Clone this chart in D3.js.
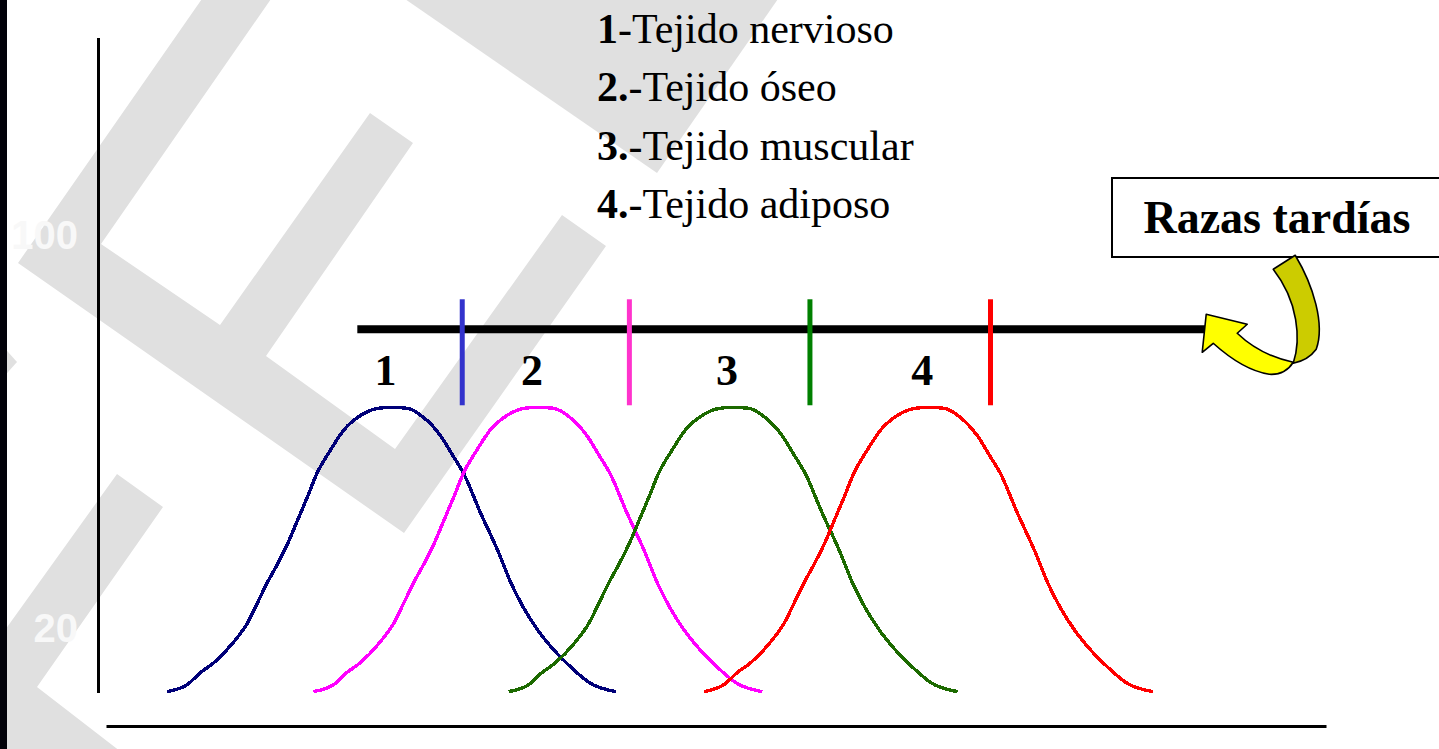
<!DOCTYPE html>
<html>
<head>
<meta charset="utf-8">
<script src="https://cdn.jsdelivr.net/npm/d3@7"></script>
<style>
  html, body { margin: 0; padding: 0; background: #fff; overflow: hidden; }
  svg { display: block; }
</style>
</head>
<body>
<div id="chart"></div>
<script>
"use strict";

/* ── Data ── */
const tissueNums   = ["1", "2.", "3.", "4."];
const tissueNames  = ["Tejido nervioso", "Tejido óseo", "Tejido muscular", "Tejido adiposo"];
const curveLabels  = ["1", "2", "3", "4"];
const curveColors  = ["#000078", "#ff00ff", "#1c6a00", "#ff0000"];
const phaseColors  = ["#3333cc", "#ff33cc", "#008000", "#ff0000"];

// peak of each tissue curve on the time axis (0-100)
const curveCenters = [23.4, 35.4, 51.4, 67.4];
// coloured marks on the bar (end of each phase)
const phaseEnds    = [29.2, 42.9, 57.7, 72.5];

// bell profile: offset from the peak / value
const bellOffsets = [-18.4, -16.7, -15.7, -14.6, -13.0, -11.8, -11.0, -10.2, -9.3, -8.5,
                     -7.7, -6.9, -6.1, -5.0, -3.9, -2.5, -1.1, 0,
                     1.3, 2.6, 4.0, 5.1, 5.9, 7.3, 8.7, 9.8, 10.8, 12.0, 13.3, 14.7, 16.3, 18.4];
const bellValues  = [7.0, 8.5, 10.8, 12.8, 16.9, 21.0, 25.0, 29.1, 33.2, 37.2,
                     41.9, 46.6, 51.5, 56.2, 60.3, 63.3, 64.7, 64.9,
                     64.7, 62.9, 59.2, 54.8, 51.5, 43.4, 35.8, 29.1, 24.2, 19.5, 15.5, 12.0, 8.7, 7.0];

const timelineRange = [20.6, 90.1];
const timelineLevel = 80.8;
const yTickValues   = [100, 20];
const yTickLabels   = ["100", "20"];
const boxLabel      = "Razas tardías";

/* ── Layout ── */
const W = 1439, H = 749;
const frame = { left: 98.5, top: 38, bottom: 693 };

const svg = d3.select("#chart").append("svg")
  .attr("width", W).attr("height", H);

const x = d3.scaleLinear().domain([0, 100]).range([106, 1326]);
const y = d3.scaleLinear().domain([0, 100]).range([726, 235]);

/* ── Background watermark ── */
const watermark = [
  [[236,-50],[305,-50],[101,244],[220,325],[370,113],[413,143],[266,356],[395,449],
   [562,215],[606,246],[404,533],[18,263]],
  [[334,-50],[812,-50],[657,173]],
  [[117,474],[163,507],[37,687],[138,765],[-10,765],[-10,637],[0,637]],
  [[0,343],[17,362],[0,381]]
];
svg.append("g").selectAll("polygon")
  .data(watermark)
  .join("polygon")
  .attr("points", d => d.map(p => p.join(",")).join(" "))
  .attr("fill", "#e0e0e0");

svg.append("rect")
  .attr("x", 0).attr("y", 0).attr("width", 7).attr("height", H)
  .attr("fill", "#02020a");

/* faint leftover y labels */
svg.append("g").selectAll("text")
  .data(yTickValues)
  .join("text")
  .attr("x", 78)
  .attr("y", d => y(d) + 14)
  .attr("text-anchor", "end")
  .attr("font-family", "Liberation Sans, Arial, sans-serif")
  .attr("font-weight", "bold")
  .attr("font-size", "40px")
  .attr("fill", "#f8f8f8")
  .text((d, i) => yTickLabels[i]);

/* ── Axes ── */
svg.append("line")
  .attr("x1", frame.left).attr("x2", frame.left)
  .attr("y1", frame.top).attr("y2", frame.bottom)
  .attr("stroke", "#000").attr("stroke-width", 3);

svg.append("g")
  .attr("transform", `translate(0,${y(0)})`)
  .call(d3.axisBottom(x).ticks(0).tickSizeOuter(0))
  .call(g => g.select(".domain").attr("stroke", "#000").attr("stroke-width", 3));

/* ── Legend ── */
const legend = svg.append("text")
  .attr("font-family", "Liberation Serif, Times New Roman, serif")
  .attr("font-size", "42px")
  .attr("fill", "#000");

tissueNames.forEach((name, i) => {
  const line = legend.append("tspan")
    .attr("x", 597)
    .attr("y", 43 + i * 58.3);
  line.append("tspan").attr("font-weight", "bold").text(tissueNums[i]);
  line.append("tspan").text("-" + name);
});

/* ── Box ── */
svg.append("rect")
  .attr("x", 1112).attr("y", 178)
  .attr("width", 332).attr("height", 79)
  .attr("fill", "#fff").attr("stroke", "#000").attr("stroke-width", 2);

svg.append("text")
  .attr("x", 1277).attr("y", 233)
  .attr("text-anchor", "middle")
  .attr("font-family", "Liberation Serif, Times New Roman, serif")
  .attr("font-weight", "bold")
  .attr("font-size", "46px")
  .attr("fill", "#000")
  .text(boxLabel);

/* ── Timeline bar ── */
const ty = y(timelineLevel);
svg.append("line")
  .attr("x1", x(timelineRange[0])).attr("x2", x(timelineRange[1]))
  .attr("y1", ty).attr("y2", ty)
  .attr("stroke", "#000").attr("stroke-width", 8);

svg.append("g").selectAll("line")
  .data(phaseEnds)
  .join("line")
  .attr("x1", d => x(d)).attr("x2", d => x(d))
  .attr("y1", ty - 30).attr("y2", ty + 76)
  .attr("stroke", (d, i) => phaseColors[i])
  .attr("stroke-width", 5);

svg.append("g").selectAll("text")
  .data(curveCenters)
  .join("text")
  .attr("x", d => x(d) - 6)
  .attr("y", ty + 56)
  .attr("text-anchor", "middle")
  .attr("font-family", "Liberation Serif, Times New Roman, serif")
  .attr("font-weight", "bold")
  .attr("font-size", "44px")
  .attr("fill", "#000")
  .text((d, i) => curveLabels[i]);

/* ── Bell curves ── */
const bell = d3.line()
  .x(d => x(d[0]))
  .y(d => y(d[1]))
  .curve(d3.curveMonotoneX);

svg.append("g").selectAll("path")
  .data(curveCenters)
  .join("path")
  .attr("d", c => bell(bellOffsets.map((o, i) => [c + o, bellValues[i]])))
  .attr("fill", "none")
  .attr("stroke", (d, i) => curveColors[i])
  .attr("stroke-width", 3.4)
  .attr("shape-rendering", "crispEdges");

/* ── Curved arrow pointing at the bar end ── */
const arrow = svg.append("g")
  .attr("transform", `translate(${x(timelineRange[1])},${ty})`)
  .attr("stroke", "#000").attr("stroke-width", 1.6).attr("stroke-linejoin", "round");

arrow.append("path")
  .attr("d", "M68,-60 L90,-74 C108,-44 120,-5 111,20 Q103,31 88,34 C96,10 93,-28 68,-60 Z")
  .attr("fill", "#cccc00");

arrow.append("path")
  .attr("d", "M1,-15 L42,-5 L32,4 Q55,26 88,33 Q80,46 64,45 Q38,41 8,14 L-3,23 Z")
  .attr("fill", "#ffff00");
</script>
</body>
</html>
